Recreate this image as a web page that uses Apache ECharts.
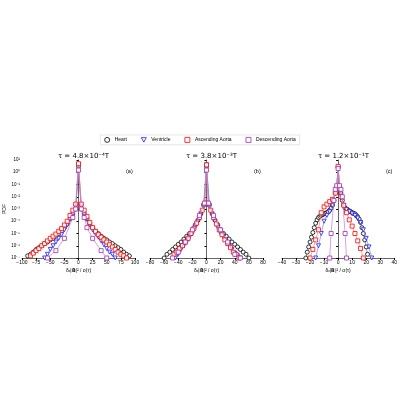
<!DOCTYPE html><html><head><meta charset="utf-8"><script src="https://cdn.jsdelivr.net/npm/echarts@6/dist/echarts.min.js"></script>
<style>body{margin:0}#c{width:400px;height:400px}</style></head><body><div id="c"></div><script>
const seriesNames=['Heart','Ventricle','Ascending Aorta','Descending Aorta'];
const panelTitles=['τ = 4.8×10⁻⁴T','τ = 3.8×10⁻³T','τ = 1.2×10⁻¹T'];
const panelTags=['(a)','(b)','(c)'];
// Panel a
const aHeartX=[-90,-85,-80,-75,-70,-65,-60,-55,-50,-45,-40,-35,-30,-25,-20,-15,-10,-5,0,5,10,15,20,25,30,35,40,45,50,55,60,65,70,75,80,85,90];
const aHeartY=[1.5e-7,2e-7,3e-7,5e-7,7e-7,1e-6,1.5e-6,2e-6,3e-6,4e-6,6e-6,1e-5,1.5e-5,3e-5,6e-5,1.5e-4,4e-4,1e-3,3,1e-3,4e-4,1.5e-4,6e-5,3e-5,1.5e-5,1e-5,6e-6,4e-6,3e-6,2e-6,1.5e-6,1e-6,7e-7,5e-7,3e-7,2e-7,1.5e-7];
const aVentX=[-60,-55,-50,-45,-40,-35,-30,-25,-20,-15,-10,-5,0,5,10,15,20,25,30,35,40,45,50,55,60,65];
const aVentY=[1e-7,2e-7,5e-7,1e-6,2e-6,4e-6,8e-6,2e-5,5e-5,1.5e-4,4e-4,1.5e-3,4,1.5e-3,4e-4,1.5e-4,5e-5,2e-5,1e-5,5e-6,2.5e-6,1.2e-6,6e-7,3e-7,2e-7,1e-7];
const aAscX=[-85,-80,-75,-70,-65,-60,-55,-50,-45,-40,-35,-30,-25,-20,-15,-10,-5,0,5,10,15,20,25,30,35,40,45,50,55,60,65,70,75,80,85];
const aAscY=[1.5e-7,2.5e-7,4e-7,6e-7,1e-6,1.5e-6,2.5e-6,4e-6,6e-6,9e-6,1.5e-5,2.5e-5,5e-5,1e-4,3e-4,8e-4,2.5e-3,5,2.5e-3,8e-4,2.5e-4,8e-5,3e-5,1.5e-5,8e-6,5e-6,3e-6,2e-6,1.2e-6,8e-7,5e-7,3e-7,2e-7,1.5e-7,1e-7];
const aDescX=[-55,-40,-25,-10,-5,0,5,10,15,25,40,50];
const aDescY=[1e-7,4e-7,4e-6,2e-4,1e-3,1.5,1e-3,2e-4,3e-5,4e-6,4e-7,1e-7];
// Panel b
const bHeartX=[-60,-56,-52,-48,-44,-40,-36,-32,-28,-24,-20,-16,-12,-8,-4,0,4,8,12,16,20,24,28,32,36,40,44,48,52,56,60];
const bHeartY=[1e-7,2e-7,3e-7,5e-7,8e-7,1.3e-6,2e-6,3.5e-6,6e-6,1e-5,2e-5,5e-5,1.2e-4,4e-4,2e-3,3,2e-3,4e-4,1.2e-4,5e-5,2e-5,1e-5,6e-6,3.5e-6,2e-6,1.3e-6,8e-7,5e-7,3e-7,2e-7,1e-7];
const bVentX=[-44,-40,-36,-32,-28,-24,-20,-16,-12,-8,-4,0,4,8,12,16,20,24,28,32,36,40,44,48];
const bVentY=[1e-7,2e-7,5e-7,1e-6,2e-6,5e-6,1e-5,3e-5,1e-4,4e-4,2e-3,4,2e-3,4e-4,1e-4,3e-5,1e-5,5e-6,2e-6,1e-6,5e-7,2.5e-7,1.5e-7,1e-7];
const bAscX=[-46,-42,-38,-34,-30,-26,-22,-18,-14,-10,-6,-2,0,2,6,10,14,18,22,26,30,34,38,42,46];
const bAscY=[2e-7,3e-7,6e-7,1e-6,2e-6,4e-6,1e-5,2.5e-5,7e-5,2e-4,8e-4,3e-3,4,3e-3,8e-4,2e-4,6e-5,2e-5,8e-6,3e-6,1.5e-6,7e-7,3e-7,2e-7,1e-7];
const bDescX=[-48,-40,-30,-20,-10,-3,0,3,10,20,30,40,48];
const bDescY=[1e-7,3e-7,2e-6,2e-5,3e-4,3e-3,1.5,3e-3,3e-4,2e-5,2e-6,2e-7,1e-7];
// Panel c
const cHeartX=[-23,-22,-21,-20,-19,-18,-17,-16,-15,-14,-13,-12,-11,-10,-9,-8,-7,-6,-5,-4,-3,-2,-1,0,1,2,3,4,5,6,7,8,9,10,11,12,13,14,15,16,17,18,19,20,21];
const cHeartY=[1e-7,3e-7,8e-7,2e-6,5e-6,1.2e-5,3e-5,7e-5,1.3e-4,2e-4,2.5e-4,3e-4,3.5e-4,4e-4,4.5e-4,5e-4,6e-4,8e-4,1.2e-3,2e-3,5e-3,2e-2,5e-2,2.5,5e-2,2e-2,5e-3,2e-3,1.2e-3,1e-3,8e-4,7e-4,6e-4,5e-4,4.5e-4,4e-4,3e-4,2.2e-4,1.5e-4,8e-5,3e-5,1e-5,3e-6,8e-7,2e-7];
const cVentX=[-16,-14,-12,-10,-8,-6,-4,-2,-1,0,1,2,4,6,8,10,12,14,16,18,20,22,24];
const cVentY=[1e-7,1e-6,1e-5,1e-4,3e-4,6e-4,2e-3,2e-2,5e-2,2.5,5e-2,1e-2,2e-3,9e-4,6e-4,4e-4,3e-4,1.8e-4,8e-5,2e-5,4e-6,8e-7,1e-7];
const cAscX=[-20,-18,-16,-14,-12,-10,-8,-6,-4,-2,-1,0,1,2,4,6,8,10,12,14,16,18];
const cAscY=[1e-7,5e-7,3e-6,2e-5,5e-4,1.5e-3,2.5e-3,4e-3,6e-3,2e-2,5e-2,3,5e-2,1e-2,2e-3,5e-4,1.3e-4,4e-5,1e-5,2.5e-6,6e-7,1e-7];
const cDescX=[-6,-5,-3,-2,-1,0,1,2,3,5,6];
const cDescY=[1e-7,1e-5,5e-3,4e-2,8e-2,2,8e-2,4e-2,1e-2,1e-5,1e-7];
const panels=[
 {xs:[aHeartX,aVentX,aAscX,aDescX],ys:[aHeartY,aVentY,aAscY,aDescY],min:-100,max:100,int:25},
 {xs:[bHeartX,bVentX,bAscX,bDescX],ys:[bHeartY,bVentY,bAscY,bDescY],min:-80,max:80,int:20},
 {xs:[cHeartX,cVentX,cAscX,cDescX],ys:[cHeartY,cVentY,cAscY,cDescY],min:-40,max:40,int:10}];
const colors=['#000','#1a1aff','#ff0000','#9b30b0'];
const lineColors=['#777','#8080ff','#ff8080','#c080d0'];
const symbols=['circle','path://M0,0L10,0L5,9Z','rect','rect'];
const lefts=[22,150,282],width=113;
const sup={'-':'⁻','0':'⁰','1':'¹','2':'²','3':'³','4':'⁴','5':'⁵','6':'⁶','7':'⁷','8':'⁸','9':'⁹'};
const grid=[],xAxis=[],yAxis=[],series=[],title=[];
panels.forEach((p,i)=>{
 grid.push({left:lefts[i],width:width,top:160,height:98});
 title.push({text:panelTitles[i],left:lefts[i]+width/2,top:148,textAlign:'center',textStyle:{fontSize:7,fontWeight:'normal',color:'#000',fontFamily:'DejaVu Sans'}});
 title.push({text:panelTags[i],left:lefts[i]+width-14,top:163,textStyle:{fontSize:5.5,fontWeight:'normal',color:'#000'}});
 xAxis.push({gridIndex:i,type:'value',min:p.min,max:p.max,interval:p.int,
  name:'δₓ|𝐁|² / σ(τ)',nameLocation:'middle',nameGap:10,nameTextStyle:{fontSize:5},
  axisLine:{onZero:false,lineStyle:{color:'#000',width:0.6}},axisTick:{length:2,lineStyle:{color:'#000'}},
  axisLabel:{fontSize:5,color:'#000',margin:2,showMinLabel:true,showMaxLabel:true,hideOverlap:false,
   formatter:v=>String(v).replace('-','−')},splitLine:{show:false}});
 yAxis.push({gridIndex:i,type:'log',logBase:10,min:1e-7,max:10,name:i===0?'PDF':'',nameLocation:'middle',nameGap:14,nameTextStyle:{fontSize:5},
  axisLine:{show:true,lineStyle:{color:'#000',width:0.6}},axisTick:{show:true,length:2,lineStyle:{color:'#000'}},
  axisLabel:{show:i===0,fontSize:4.5,color:'#000',margin:2,formatter:v=>{const e=Math.round(Math.log10(v));return '10'+String(e).split('').map(c=>sup[c]).join('');}},
  splitLine:{show:false},minorTick:{show:false}});
 for(let s=0;s<4;s++){
  series.push({name:seriesNames[s],type:'line',xAxisIndex:i,yAxisIndex:i,
   data:p.xs[s].map((x,k)=>[x,p.ys[s][k]]),symbol:symbols[s],symbolSize:4,
   lineStyle:{color:lineColors[s],width:0.7},itemStyle:{color:'#fff',borderColor:colors[s],borderWidth:0.8},z:2+s});
 }
});
const legendData=seriesNames.map((n,s)=>({name:n,icon:symbols[s],itemStyle:{color:'#fff',borderColor:colors[s],borderWidth:0.8}}));
const chart=echarts.init(document.getElementById('c'));
chart.setOption({animation:false,title:title,grid:grid,xAxis:xAxis,yAxis:yAxis,series:series,
 legend:{top:135,left:'center',data:legendData,itemWidth:5,itemHeight:5,itemGap:14,textStyle:{fontSize:5,color:'#000'},
  borderColor:'#ccc',borderWidth:0.5,padding:[2,4]}});
</script></body></html>
